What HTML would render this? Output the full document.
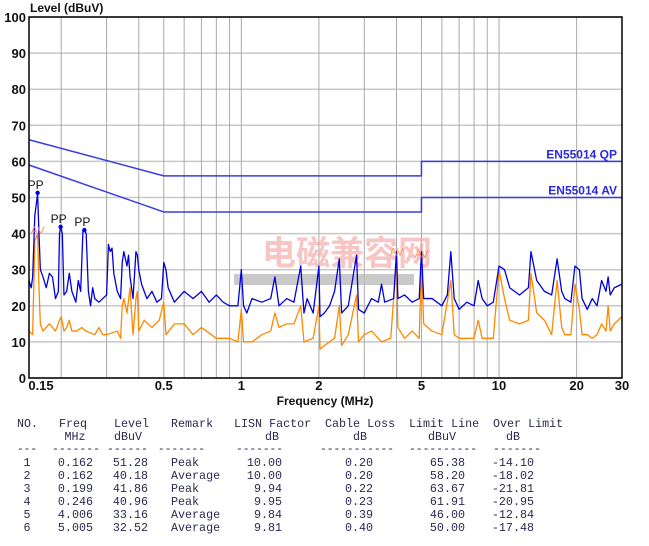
<!DOCTYPE html>
<html><head><meta charset="utf-8"><style>
body{margin:0;background:#fff;width:649px;height:546px;overflow:hidden}
svg{display:block}
</style></head><body>
<svg id="chart" width="649" height="546" xmlns="http://www.w3.org/2000/svg" font-family="Liberation Sans, sans-serif">
<g id="grid"></g>
<g id="wm">
<rect x="234" y="274" width="180" height="11" fill="#bbb" opacity="0.8"/>
<text x="262" y="265" font-size="34" font-weight="bold" fill="#f4a0a0" opacity="0.6" font-family="Liberation Sans, Noto Sans CJK SC, sans-serif">电磁兼容网</text>
</g>
<g id="limits"></g>
<g id="series"></g>
<g id="axes"></g>
<g id="table" font-family="Liberation Mono, Noto Serif CJK SC, monospace" font-size="11.7" fill="#2a2a50"></g>
</svg>
<script>
const xTicks=[0.15,0.5,1,2,5,10,20,30];
const xGrid=[0.2,0.3,0.4,0.5,0.6,0.7,0.8,0.9,1,2,3,4,5,6,7,8,9,10,20,30];
const yTicks=[0,10,20,30,40,50,60,70,80,90,100];
const qpFreq=[0.15,0.5,5,5,30];
const qpLevel=[66,56,56,60,60];
const avFreq=[0.15,0.5,5,5,30];
const avLevel=[59,46,46,50,50];
const peakFreq=[0.15,0.153,0.155,0.158,0.162,0.164,0.166,0.17,0.175,0.18,0.185,0.19,0.195,0.197,0.199,0.202,0.205,0.21,0.215,0.22,0.228,0.233,0.238,0.243,0.246,0.25,0.255,0.26,0.265,0.27,0.28,0.29,0.3,0.305,0.31,0.315,0.32,0.33,0.34,0.345,0.35,0.36,0.365,0.37,0.38,0.39,0.395,0.4,0.41,0.43,0.45,0.47,0.49,0.5,0.51,0.52,0.55,0.6,0.65,0.7,0.75,0.8,0.85,0.9,0.97,1.0,1.02,1.05,1.1,1.2,1.3,1.35,1.4,1.5,1.6,1.7,1.75,1.8,1.9,2.0,2.02,2.1,2.2,2.3,2.4,2.45,2.6,2.8,2.85,3.0,3.2,3.4,3.5,3.6,3.9,4.0,4.05,4.3,4.6,4.9,5.0,5.1,5.5,6.0,6.3,6.5,6.7,7.0,7.5,8.0,8.3,8.6,9.0,9.5,10,10.5,11,12,13,13.3,14,15,16,16.8,17.5,18,19,19.7,20.5,21,22,23,24,25,26,26.5,27,28,30];
const peakLevel=[27,25,28,45,51,40,30,28,25,29,28,22,24,40,42,40,23,24,29,24,21,27,24,41,41,40,24,20,25,22,21,22,23,37,35,36,29,24,22,32,35,31,34,28,22,35,34,30,26,22,24,21,22,32,30,25,21,24,22,24,21,23,21,20,20,30,20,18,22,21,22,28,20,22,21,31,18,22,18,31,17,18,20,24,33,18,20,34,19,18,22,21,26,21,22,35,22,23,21,22,35,22,22,20,23,35,22,19,21,20,27,22,20,21,31,30,25,23,25,35,27,24,23,33,24,22,21,31,30,22,19,22,20,27,24,28,23,25,26];
const avgFreq=[0.15,0.155,0.158,0.162,0.164,0.166,0.17,0.18,0.19,0.197,0.2,0.205,0.21,0.215,0.22,0.23,0.24,0.25,0.27,0.28,0.29,0.3,0.33,0.34,0.345,0.35,0.36,0.37,0.375,0.38,0.39,0.395,0.4,0.42,0.45,0.48,0.5,0.51,0.55,0.6,0.65,0.7,0.8,0.9,0.97,1.0,1.02,1.1,1.2,1.3,1.35,1.4,1.5,1.6,1.7,1.75,1.9,2.0,2.02,2.1,2.3,2.4,2.45,2.6,2.8,2.85,3.0,3.2,3.5,3.8,4.0,4.05,4.3,4.6,4.9,5.0,5.1,5.5,6.0,6.5,6.7,7.0,8.0,8.3,8.6,9.0,9.5,10,10.5,11,12,13,13.3,14,15,16,16.8,17.5,18,19,19.7,20.5,21,22,23,24,25,26,26.5,27,28,30];
const avgLevel=[13,12,38,40,25,15,13,15,13,16,17,13,14,16,13,13,14,13,12,14,12,12,13,11,20,22,18,25,18,12,22,24,13,16,14,16,21,12,15,15,12,14,11,11,10,19,10,10,12,13,18,14,15,15,20,10,11,20,8,9,11,20,9,12,23,10,12,13,10,11,33,14,11,13,11,32,15,13,12,27,12,11,11,16,11,11,11,30,22,16,15,16,29,18,16,12,27,14,12,12,26,19,12,12,11,12,15,13,20,13,15,17];
const markFreq=[0.162,0.199,0.246];
const markLevel=[51.28,41.86,40.96];
const avMarkFreq=[0.162,4.006,5.005];
const avMarkLevel=[40.18,33.16,32.52];
const tblHead1=["NO.","Freq","Level","Remark","LISN Factor","Cable Loss","Limit Line","Over Limit"];
const tblHead2=["","MHz","dBuV","","dB","dB","dBuV","dB"];
const tblRows=[["1","0.162","51.28","Peak","10.00","0.20","65.38","-14.10"],["2","0.162","40.18","Average","10.00","0.20","58.20","-18.02"],["3","0.199","41.86","Peak","9.94","0.22","63.67","-21.81"],["4","0.246","40.96","Peak","9.95","0.23","61.91","-20.95"],["5","4.006","33.16","Average","9.84","0.39","46.00","-12.84"],["6","5.005","32.52","Average","9.81","0.40","50.00","-17.48"]];

const X0=29,X1=622,Y0=378,Y1=17;
const lx=f=>X0+(Math.log10(f)-Math.log10(0.15))/(Math.log10(30)-Math.log10(0.15))*(X1-X0);
const ly=v=>Y0-v/100*(Y0-Y1);
const NS="http://www.w3.org/2000/svg";
function mk(parent,tag,attrs,txt){const e=document.createElementNS(NS,tag);for(const k in attrs)e.setAttribute(k,attrs[k]);if(txt!==undefined)e.textContent=txt;document.getElementById(parent).appendChild(e);return e;}
yTicks.forEach(v=>{const e=mk('grid','line',{x1:X0,x2:X1,y1:ly(v),y2:ly(v),stroke:'#c8c8c8','stroke-width':1.5});

});
xGrid.forEach(f=>{const e=mk('grid','line',{x1:lx(f),x2:lx(f),y1:Y1,y2:Y0,stroke:'#aaa','stroke-width':1});

});
const fr=mk('axes','rect',{x:X0,y:Y1,width:X1-X0,height:Y0-Y1,fill:'none',stroke:'#000','stroke-width':1.5});


yTicks.forEach(v=>{const t=mk('axes','text',{x:26,y:ly(v)+5,'text-anchor':'end','font-size':13,'font-weight':'bold',fill:'#111'},v);

});
xTicks.forEach(f=>{let x=lx(f);if(f===0.15)x+=12;const t=mk('axes','text',{x:x,y:390,'text-anchor':'middle','font-size':13,'font-weight':'bold',fill:'#111'},String(f));

});
let t=mk('axes','text',{x:30,y:12,'font-size':12,'font-weight':'bold',fill:'#111'},'Level (dBuV)');


t=mk('axes','text',{x:325,y:405,'text-anchor':'middle','font-size':12,'font-weight':'bold',fill:'#111'},'Frequency (MHz)');


function poly(g,fs,vs,col,w){return mk(g,'polyline',{points:fs.map((f,i)=>lx(f)+','+ly(vs[i])).join(' '),fill:'none',stroke:col,'stroke-width':w,'stroke-linejoin':'round'});}
let p=poly('limits',qpFreq,qpLevel,'#3a3ae8',1.5);


p=poly('limits',avFreq,avLevel,'#3a3ae8',1.5);


t=mk('limits','text',{x:617,y:ly(60)-3,'text-anchor':'end','font-size':12,'font-weight':'bold',fill:'#2a2ae0'},'EN55014 QP');


t=mk('limits','text',{x:617,y:ly(50)-3,'text-anchor':'end','font-size':12,'font-weight':'bold',fill:'#2a2ae0','xml:space':'preserve'},'EN55014  AV');


p=poly('series',avgFreq,avgLevel,'#ff8800',1.3);


p=poly('series',peakFreq,peakLevel,'#0000dd',1.3);


markFreq.forEach((f,i)=>{const c=mk('series','circle',{cx:lx(f),cy:ly(markLevel[i]),r:2.2,fill:'#0000dd'});


const l=mk('series','text',{x:lx(f)-2,y:ly(markLevel[i])-4,'text-anchor':'middle','font-size':12,fill:'#111'},'PP');

});
avMarkFreq.forEach((f,i)=>{const l=mk('series','text',{x:lx(f),y:ly(avMarkLevel[i])-(i?3:-1),'text-anchor':'middle','font-size':11,fill:'#ff8844',opacity:0.85},'AV');

});
// table layout
const h1X=[17,59,114,171,234,325,409,493];
const h2C=[0,75,128,0,272,360,442,513];
const dashS=[17,52,107,158,236,320,409,493];
const dashE=[37,100,148,205,283,394,477,541];
const cellX=[27,93,148,171,282,373,465,534];
const cellA=['middle','end','end','start','end','end','end','end'];
tblHead1.forEach((h,i)=>{let e=mk('table','text',{x:h1X[i],y:427},h);


if(tblHead2[i]){e=mk('table','text',{x:h2C[i],y:440,'text-anchor':'middle'},tblHead2[i]);

}
const n=Math.round((dashE[i]-dashS[i])/6.5);
e=mk('table','text',{x:dashS[i],y:452,textLength:dashE[i]-dashS[i],lengthAdjust:'spacingAndGlyphs'},'-'.repeat(n));

});
tblRows.forEach((r,ri)=>{r.forEach((c,ci)=>{
const e=mk('table','text',{x:cellX[ci],y:466+ri*13,'text-anchor':cellA[ci]},c);

});});
</script>
</body></html>
